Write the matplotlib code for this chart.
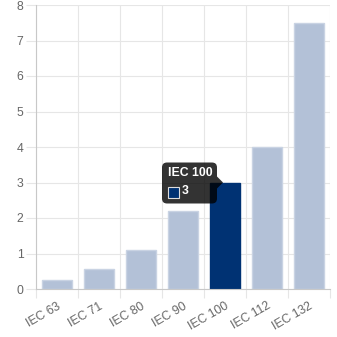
import matplotlib.pyplot as plt
import matplotlib.transforms as mtransforms
from matplotlib.patches import FancyBboxPatch, Polygon, Rectangle

# frame sizes and power values
labels = ['IEC 63', 'IEC 71', 'IEC 80', 'IEC 90', 'IEC 100', 'IEC 112', 'IEC 132']
values = [0.25, 0.55, 1.1, 2.2, 3, 4, 7.5]
highlight = 4

light = '#b3c1d7'
dark = '#003273'
grid_c = '#e6e6e6'
text_c = '#666666'

plt.rcParams['font.family'] = ['Liberation Sans', 'DejaVu Sans']

fig = plt.figure(figsize=(3.37, 3.37), dpi=100)
ax = fig.add_axes([36 / 337, 48 / 337, 294 / 337, 284 / 337])

x = list(range(len(labels)))
colors = [dark if i == highlight else light for i in x]
edges = [dark if i == highlight else '#c9d3e3' for i in x]
ax.bar(x, values, width=0.72, color=colors, edgecolor=edges, linewidth=1, zorder=2)

ax.set_xlim(-0.5, len(labels) - 0.5)
ax.set_ylim(0, 8)
ax.set_yticks(range(0, 9))
ax.set_xticks(x)
ax.set_xticklabels(labels, rotation=30, ha='right', rotation_mode='anchor')
ax.set_xticks([i - 0.5 for i in range(len(labels) + 1)], minor=True)

ax.tick_params(axis='x', which='major', length=0, pad=8, labelsize=8.8, labelcolor=text_c)
ax.tick_params(axis='x', which='minor', length=6.5, color=grid_c, width=0.8)
ax.tick_params(axis='y', length=7, color=grid_c, width=0.8, pad=2, labelsize=8.8, labelcolor=text_c)

ax.grid(True, axis='y', color=grid_c, linewidth=0.8, zorder=0)
ax.grid(True, axis='x', which='minor', color=grid_c, linewidth=0.8, zorder=0)
ax.grid(False, axis='x', which='major')

for s in ['top', 'right']:
    ax.spines[s].set_visible(False)
for s in ['left', 'bottom']:
    ax.spines[s].set_color('#c8c8c8')
    ax.spines[s].set_linewidth(0.8)

# tooltip anchored (in pixels) at the top of the highlighted bar
pix = mtransforms.Affine2D().translate(*ax.transData.transform((highlight, values[highlight])))
tip_bg = (0, 0, 0, 0.8)

ax.add_patch(FancyBboxPatch((-63, -21), 55, 41, boxstyle='round,pad=0,rounding_size=5',
                            transform=pix, facecolor=tip_bg, edgecolor='none',
                            zorder=5, clip_on=False))
ax.add_patch(Polygon([(-8, 6), (-2, 0), (-8, -6)], closed=True, transform=pix,
                     facecolor=tip_bg, edgecolor='none', zorder=5, clip_on=False))
ax.add_patch(Rectangle((-57, -15), 11, 11, transform=pix, facecolor=dark,
                       edgecolor='#dddddd', linewidth=0.8, zorder=6, clip_on=False))
ax.text(-57, 10, labels[highlight], transform=pix, color='white', fontsize=8.8,
        fontweight='bold', va='center', ha='left', zorder=7)
ax.text(-43, -9, f'{values[highlight]:g}', transform=pix, color='white', fontsize=8.8,
        fontweight='bold', va='center', ha='left', zorder=7)

fig.savefig('out.png', dpi=100)
